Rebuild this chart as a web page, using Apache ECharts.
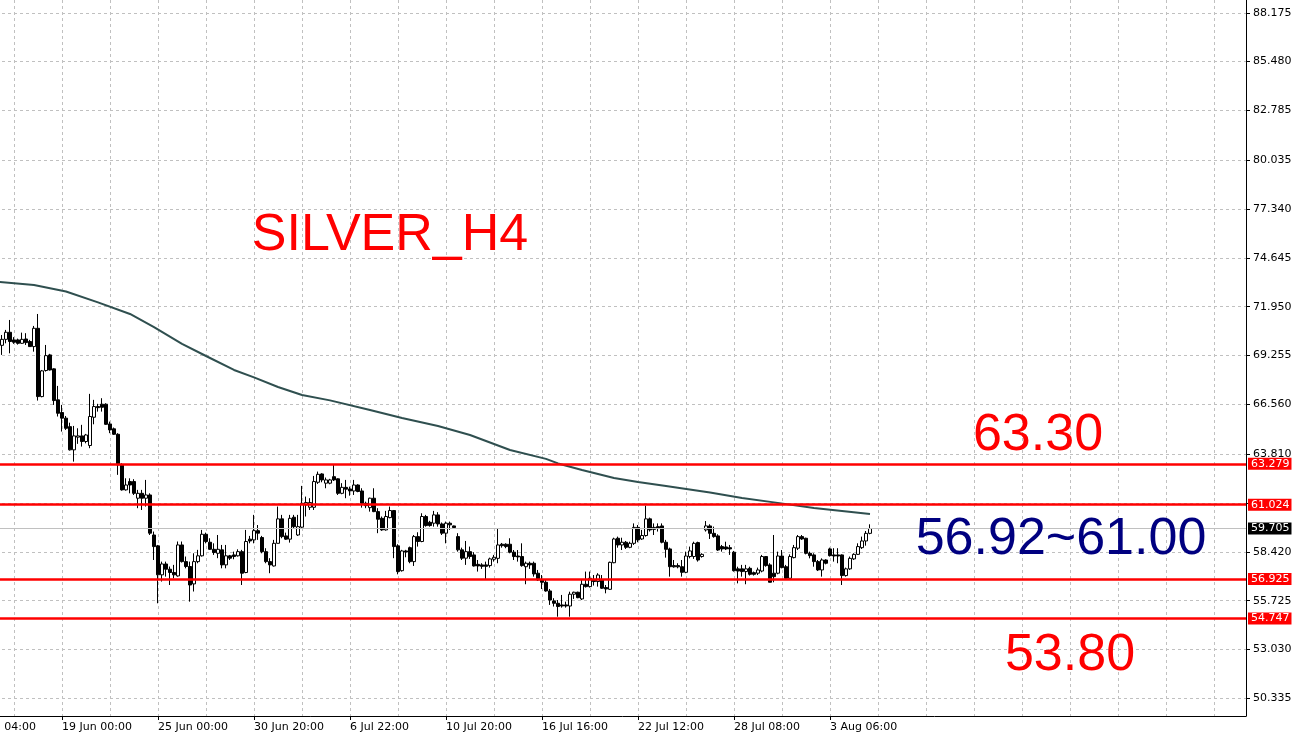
<!DOCTYPE html>
<html>
<head>
<meta charset="utf-8">
<title>SILVER_H4</title>
<script src="https://cdn.jsdelivr.net/npm/echarts@6/dist/echarts.min.js"></script>
<style>
html, body { margin: 0; padding: 0; background: #fff; }
#chart { width: 1292px; height: 735px; }
</style>
</head>
<body>
<div id="chart"></div>
<script>
// 4h bar slots on the time axis; slot 0 carries the first time label,
// which sits left of the window, the first visible candle is slot 9
var slotCount = 321;
var firstBar = 9;

var open = [
	69.82, 70.15, 70.54, 70.12, 70.12, 69.93, 70.17, 70.03, 69.75, 70.76,
	66.99, 68.43, 69.29, 68.52, 66.81, 66.11, 65.80, 65.33, 64.05, 64.75,
	64.82, 64.51, 64.29, 65.85, 66.44, 66.57, 66.57, 65.48, 65.21, 64.91,
	63.22, 61.84, 62.30, 62.30, 61.38, 61.65, 61.38, 61.56, 59.35, 58.75,
	57.15, 57.75, 57.46, 57.28, 57.09, 58.80, 57.88, 57.61, 56.65, 57.88,
	58.20, 59.39, 58.95, 58.56, 58.34, 58.53, 57.70, 58.20, 58.25, 58.20,
	58.43, 57.28, 59.12, 59.08, 59.59, 59.21, 58.43, 57.88, 57.64, 58.89,
	60.24, 59.30, 59.12, 60.33, 59.35, 59.78, 61.01, 60.88, 60.88, 62.26,
	62.72, 62.21, 62.21, 62.57, 62.45, 61.65, 61.98, 61.89, 61.78, 62.11,
	61.78, 61.10, 60.86, 61.38, 60.64, 60.27, 59.63, 60.31, 60.70, 58.75,
	57.38, 58.47, 58.65, 57.88, 59.26, 58.99, 60.37, 60.05, 60.00, 60.46,
	59.96, 59.45, 60.00, 59.85, 59.26, 58.53, 58.07, 58.43, 58.25, 57.73,
	57.70, 57.70, 57.66, 58.01, 58.06, 58.84, 58.84, 58.84, 58.40, 58.19,
	58.16, 57.60, 57.79, 57.79, 57.24, 56.87, 56.74, 56.26, 55.71, 55.58,
	55.49, 55.49, 55.43, 56.08, 56.19, 55.82, 56.63, 56.50, 56.87, 56.78,
	56.87, 56.45, 56.35, 57.82, 59.17, 58.80, 58.95, 58.67, 58.89, 59.77,
	59.13, 59.32, 60.24, 59.77, 59.81, 59.85, 58.95, 58.58, 57.66, 57.66,
	57.60, 57.29, 58.16, 58.16, 58.93, 58.16, 59.63, 59.85, 59.44, 59.30,
	58.71, 58.69, 58.65, 58.40, 57.48, 57.48, 57.33, 57.51, 57.27, 57.24,
	57.36, 58.16, 57.70, 57.24, 57.24, 58.19, 57.60, 56.96, 58.10, 58.62,
	59.26, 59.17, 58.34, 58.25, 57.88, 57.42, 57.97, 58.58, 58.25, 58.25,
	58.25, 57.11, 57.48, 58.03, 58.28, 58.65, 59.02, 59.44
];
var close = [
	70.15, 70.54, 70.03, 69.99, 69.93, 70.15, 69.97, 69.75, 70.76, 66.99,
	68.41, 69.25, 68.46, 66.77, 66.07, 65.80, 65.24, 64.05, 64.82, 64.82,
	64.51, 64.87, 65.89, 66.44, 66.38, 66.40, 65.46, 65.15, 64.91, 63.22,
	61.84, 62.11, 62.11, 61.65, 61.65, 61.38, 61.56, 59.45, 58.71, 57.15,
	57.75, 57.46, 57.28, 57.15, 58.80, 57.88, 57.61, 56.59, 57.88, 58.20,
	59.39, 58.99, 58.56, 58.38, 58.56, 57.70, 58.20, 58.07, 58.16, 58.43,
	57.24, 58.99, 59.02, 59.59, 59.45, 58.43, 57.88, 57.70, 58.89, 60.24,
	59.26, 59.12, 60.27, 59.81, 59.81, 61.10, 61.14, 61.14, 62.30, 62.70,
	62.39, 62.39, 62.39, 62.39, 61.65, 61.98, 61.88, 61.78, 62.11, 61.75,
	61.10, 60.97, 61.38, 60.64, 60.22, 59.63, 60.37, 60.70, 58.71, 57.33,
	58.47, 58.41, 57.88, 59.26, 58.99, 60.37, 59.87, 59.87, 60.46, 59.96,
	59.45, 60.00, 59.91, 59.76, 58.53, 58.07, 58.43, 58.16, 57.64, 57.64,
	57.62, 57.62, 58.03, 58.12, 58.80, 58.76, 58.71, 58.40, 58.16, 58.14,
	57.66, 57.79, 57.70, 57.20, 56.87, 56.74, 56.26, 55.76, 55.58, 55.40,
	55.43, 55.43, 56.08, 56.19, 55.89, 56.63, 56.50, 56.96, 56.78, 57.14,
	56.41, 56.37, 57.84, 59.13, 58.80, 58.95, 58.67, 58.89, 59.77, 59.08,
	59.32, 60.24, 59.63, 59.66, 59.72, 58.95, 58.56, 57.60, 57.59, 57.59,
	57.29, 58.19, 58.47, 58.89, 57.97, 58.28, 59.85, 59.44, 59.26, 58.52,
	58.58, 58.58, 58.58, 57.38, 57.36, 57.33, 57.48, 57.18, 57.18, 57.42,
	58.16, 57.66, 56.74, 57.05, 58.19, 57.55, 56.96, 58.16, 58.65, 59.26,
	59.13, 58.34, 58.21, 57.88, 57.42, 57.97, 57.79, 58.21, 58.19, 58.19,
	57.11, 57.48, 58.06, 58.28, 58.71, 59.02, 59.44, 59.705
];
var low = [
	69.29, 69.93, 69.38, 69.90, 69.86, 69.90, 69.84, 69.75, 69.47, 66.77,
	66.95, 68.37, 68.43, 66.53, 65.89, 65.06, 65.15, 64.01, 63.40, 64.38,
	64.23, 64.41, 64.14, 65.46, 66.16, 66.16, 65.43, 64.97, 64.87, 62.67,
	61.80, 61.80, 61.65, 61.56, 60.83, 60.73, 60.92, 59.35, 57.97, 55.58,
	56.78, 57.05, 56.59, 56.96, 57.05, 57.83, 57.51, 55.67, 56.23, 57.79,
	58.16, 58.89, 58.53, 58.25, 58.07, 57.51, 57.51, 57.97, 58.01, 58.16,
	56.59, 57.24, 58.89, 58.89, 59.08, 58.34, 57.79, 57.24, 57.61, 58.89,
	59.17, 59.08, 58.93, 59.72, 59.30, 59.72, 60.37, 60.73, 60.73, 62.17,
	62.26, 61.93, 62.15, 62.33, 61.56, 61.60, 61.38, 61.52, 61.56, 61.71,
	60.86, 60.83, 60.64, 60.61, 59.45, 59.58, 59.59, 60.27, 58.07, 57.18,
	57.33, 58.12, 57.79, 57.64, 58.71, 58.95, 59.81, 59.81, 59.81, 59.81,
	59.35, 58.89, 59.63, 59.74, 58.43, 57.97, 57.70, 58.03, 57.61, 57.33,
	57.48, 56.87, 57.55, 57.88, 57.79, 58.65, 58.62, 58.34, 57.97, 57.88,
	57.60, 56.63, 57.48, 57.05, 56.81, 56.37, 56.22, 55.49, 55.40, 54.84,
	55.34, 55.34, 54.84, 55.82, 55.86, 55.76, 56.45, 56.45, 56.56, 56.50,
	56.37, 56.13, 56.32, 57.79, 58.65, 58.52, 58.58, 58.62, 58.80, 58.95,
	59.08, 59.26, 59.54, 59.35, 59.54, 58.89, 58.10, 57.05, 57.55, 57.51,
	57.05, 57.24, 58.06, 58.03, 57.88, 58.10, 59.54, 59.13, 59.20, 58.47,
	58.43, 58.52, 58.25, 57.33, 56.68, 57.05, 56.63, 57.11, 57.11, 57.14,
	57.29, 57.60, 56.74, 56.74, 57.18, 57.51, 56.92, 56.92, 58.06, 58.52,
	59.08, 58.28, 58.06, 57.60, 57.36, 57.05, 57.73, 58.16, 57.88, 57.79,
	56.59, 57.05, 57.42, 57.97, 58.25, 58.58, 58.76, 59.39
];
var high = [
	70.39, 70.67, 71.22, 70.27, 70.19, 70.52, 70.49, 70.12, 70.89, 71.55,
	68.46, 69.84, 69.35, 68.55, 67.58, 66.53, 65.92, 65.55, 65.37, 65.24,
	65.43, 64.93, 67.14, 66.81, 66.59, 66.90, 66.62, 65.61, 65.28, 64.97,
	63.31, 62.48, 62.48, 62.43, 61.84, 61.84, 62.39, 61.65, 59.54, 58.80,
	57.88, 57.88, 57.61, 57.70, 58.99, 58.99, 58.16, 57.88, 58.34, 58.53,
	59.63, 59.48, 59.17, 58.89, 59.35, 58.80, 58.80, 58.25, 58.43, 58.56,
	58.53, 59.63, 59.30, 60.46, 59.90, 59.30, 58.62, 58.07, 59.08, 60.92,
	60.46, 59.48, 60.46, 60.46, 60.46, 62.06, 61.47, 61.38, 62.61, 62.85,
	62.76, 62.52, 62.45, 63.22, 62.48, 62.21, 62.39, 62.02, 62.39, 62.15,
	61.93, 61.19, 61.41, 61.93, 60.83, 60.37, 60.68, 60.92, 60.73, 58.84,
	58.53, 58.53, 58.71, 59.35, 59.50, 60.55, 60.46, 60.13, 60.68, 60.61,
	60.04, 60.09, 60.09, 59.87, 59.45, 58.65, 59.02, 58.71, 58.40, 57.97,
	57.79, 57.88, 58.10, 58.25, 59.72, 58.91, 58.89, 59.17, 58.52, 58.52,
	58.89, 57.88, 57.88, 57.88, 57.42, 57.14, 56.87, 56.37, 55.86, 55.76,
	56.04, 55.67, 56.22, 56.22, 56.22, 56.87, 57.33, 57.33, 57.14, 57.24,
	57.14, 56.59, 57.88, 59.20, 59.26, 59.20, 59.02, 58.98, 59.99, 59.90,
	59.63, 60.97, 60.31, 59.99, 59.99, 59.99, 59.08, 58.65, 57.97, 57.79,
	57.97, 58.43, 58.71, 58.98, 58.98, 58.34, 60.12, 59.94, 59.81, 59.39,
	58.80, 58.98, 58.80, 58.47, 57.60, 57.70, 57.70, 57.60, 57.33, 57.55,
	58.25, 58.19, 57.79, 59.35, 58.43, 58.52, 57.70, 58.28, 58.80, 59.35,
	59.35, 59.20, 58.43, 58.34, 57.97, 58.06, 58.01, 58.65, 58.62, 58.62,
	58.28, 57.55, 58.16, 58.34, 58.89, 59.26, 59.57, 59.94
];

// moving average at these bar slots
var maIndex = [8, 17, 25, 33, 41, 47, 54, 60, 67, 72, 78, 84, 91, 101, 109,
	118, 126, 136, 145, 148, 154, 162, 168, 175, 186, 194, 202, 212, 219, 226];
var maValue = [73.33, 73.15, 72.79, 72.19, 71.55, 70.83, 69.90, 69.23, 68.46, 68.05,
	67.52, 67.08, 66.78, 66.25, 65.81, 65.37, 64.87, 64.04, 63.55, 63.30,
	62.94, 62.50, 62.28, 62.06, 61.70, 61.39, 61.15, 60.84, 60.68, 60.51];

// time labels, one every 24 bars from slot 0
var timeLabels = ['15 Jun 04:00', '19 Jun 00:00', '25 Jun 00:00', '30 Jun 20:00', '6 Jul 22:00',
	'10 Jul 20:00', '16 Jul 16:00', '22 Jul 12:00', '28 Jul 08:00', '3 Aug 06:00'];
var labelStep = 24;
var gridStep = 12;

var priceTicks = [50.335, 53.030, 55.725, 58.420, 61.115, 63.810, 66.560, 69.255,
	71.950, 74.645, 77.340, 80.035, 82.785, 85.480, 88.175];
var hiddenTick = 61.115;
var priceMin = 49.358;
var priceMax = 88.882;

var levelLines = [63.279, 61.024, 56.925, 54.747];
var bidPrice = 59.705;

var notes = ['SILVER_H4', '63.30', '56.92~61.00', '53.80'];

var axisFont = 'DejaVu Sans';
var axisFontSize = 11;

function labelAt(i){
	if (i % labelStep != 0) return null;
	var k = i / labelStep;
	return k < timeLabels.length ? timeLabels[k] : null;
}

var categories = [];
var candleData = [];
var maData = [];
for (var i = 0; i < slotCount; i++) {
	var lab = labelAt(i);
	categories.push(lab ? lab : 'b' + i);
	var k = i - firstBar;
	if (k >= 0 && k < open.length) {
		candleData.push([open[k], close[k], low[k], high[k]]);
	} else {
		candleData.push('-');
	}
	maData.push('-');
}
for (var m = 0; m < maIndex.length; m++) {
	maData[maIndex[m]] = maValue[m];
}

var levelMarks = [];
for (var q = 0; q < levelLines.length; q++) {
	levelMarks.push({
		yAxis: levelLines[q],
		lineStyle: { color: '#ff0000', width: 2.5, type: 'solid' },
		label: { backgroundColor: '#ff0000' }
	});
}
levelMarks.push({
	yAxis: bidPrice,
	lineStyle: { color: '#c0c0c0', width: 1, type: 'solid' },
	label: { backgroundColor: '#000000' }
});

var myChart = echarts.init(document.getElementById('chart'), null, { renderer: 'canvas' });

var option = {
	animation: false,
	backgroundColor: '#ffffff',
	grid: { left: -34, right: 46, top: 0, bottom: 19, containLabel: false, outerBoundsMode: 'none' },
	xAxis: {
		type: 'category',
		data: categories,
		boundaryGap: false,
		axisLine: { show: true, lineStyle: { color: '#000', width: 1 } },
		axisTick: {
			show: true, length: 4,
			interval: function(idx){ return labelAt(idx) != null; },
			lineStyle: { color: '#000' }
		},
		axisLabel: {
			interval: function(idx){ return labelAt(idx) != null; },
			formatter: function(v){ return v.charAt(0) == 'b' ? '' : v; },
			align: 'left',
			margin: 6,
			color: '#000',
			fontFamily: axisFont,
			fontSize: axisFontSize
		},
		splitLine: {
			show: true,
			interval: function(idx){ return idx % gridStep == 0; },
			lineStyle: { color: '#c0c0c0', width: 1, type: [3, 3] }
		}
	},
	yAxis: {
		type: 'value',
		position: 'right',
		min: priceMin,
		max: priceMax,
		axisLine: { show: true, onZero: false, lineStyle: { color: '#000', width: 1 } },
		axisTick: {
			show: true, length: 4,
			customValues: priceTicks,
			lineStyle: { color: '#000' }
		},
		axisLabel: {
			customValues: priceTicks.filter(function(v){ return v != hiddenTick; }),
			formatter: function(v){ return Number(v).toFixed(3); },
			margin: 7,
			color: '#000',
			fontFamily: axisFont,
			fontSize: axisFontSize
		},
		splitLine: {
			show: true,
			lineStyle: { color: '#c0c0c0', width: 1, type: [3, 3] }
		}
	},
	series: [
		{
			name: 'MA',
			type: 'line',
			data: maData,
			connectNulls: true,
			symbol: 'none',
			smooth: false,
			z: 2,
			lineStyle: { color: '#2f4f4f', width: 2 }
		},
		{
			name: 'SILVER',
			type: 'candlestick',
			data: candleData,
			barWidth: 3,
			z: 3,
			itemStyle: {
				color: '#ffffff',
				color0: '#000000',
				borderColor: '#000000',
				borderColor0: '#000000',
				borderWidth: 1
			},
			markLine: {
				silent: true,
				symbol: 'none',
				precision: 3,
				z: 5,
				label: {
					show: true,
					position: 'end',
					distance: 2,
					formatter: function(p){ return Number(p.value).toFixed(3); },
					color: '#ffffff',
					fontFamily: axisFont,
					fontSize: axisFontSize,
					padding: [1, 2, 0, 3]
				},
				data: levelMarks
			}
		}
	],
	graphic: [
		{ type: 'text', x: 390, y: 236, z: 10,
			style: { text: notes[0], fill: '#ff0000', fontFamily: 'Liberation Sans', fontSize: 52, align: 'center', verticalAlign: 'middle' } },
		{ type: 'text', x: 1038, y: 436, z: 10,
			style: { text: notes[1], fill: '#ff0000', fontFamily: 'Liberation Sans', fontSize: 52, align: 'center', verticalAlign: 'middle' } },
		{ type: 'text', x: 1061, y: 540, z: 10,
			style: { text: notes[2], fill: '#000080', fontFamily: 'Liberation Sans', fontSize: 52, align: 'center', verticalAlign: 'middle' } },
		{ type: 'text', x: 1070, y: 656, z: 10,
			style: { text: notes[3], fill: '#ff0000', fontFamily: 'Liberation Sans', fontSize: 52, align: 'center', verticalAlign: 'middle' } }
	]
};

myChart.setOption(option);
</script>
</body>
</html>
